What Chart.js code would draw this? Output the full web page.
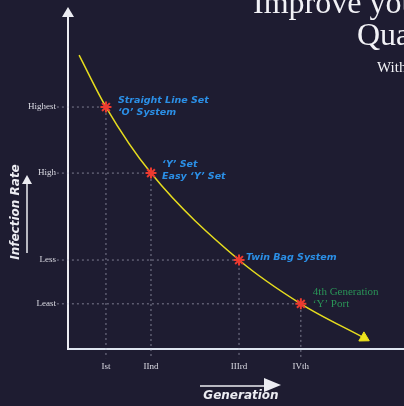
<!DOCTYPE html>
<html>
<head>
<meta charset="utf-8">
<script src="https://cdn.jsdelivr.net/npm/chart.js@4"></script>
<style>
  html, body { margin: 0; padding: 0; background: #1e1c31; overflow: hidden; }
  #wrap { width: 404px; height: 406px; }
</style>
</head>
<body>
<div id="wrap"><canvas id="chart"></canvas></div>
<script>
// tick labels and where they sit on the (0-100) scales
const generations = ['Ist', 'IInd', 'IIIrd', 'IVth'];
const genPos = [11.3, 24.7, 50.9, 69.3];
const rateLabels = ['Highest', 'High', 'Less', 'Least'];
const ratePos = [71.8, 52.2, 26.4, 13.4];

// the infection rate curve
const curveX = [3.3, 11.3, 24.7, 50.9, 69.3, 88.1];
const curveY = [87.2, 71.8, 52.2, 26.4, 13.4, 3.3];

// systems marked on the curve (one per generation)
const systems = [
  ['Straight Line Set', '‘O’ System'],
  ['‘Y’ Set', 'Easy ‘Y’ Set'],
  ['Twin Bag System'],
  ['4th Generation', '‘Y’ Port']
];

const labelStyle = [
  { dx: 12, dy: -7, color: '#2b8fe6', font: 'bold italic 9.5px "DejaVu Sans"' },
  { dx: 11, dy: -9, color: '#2b8fe6', font: 'bold italic 9.5px "DejaVu Sans"' },
  { dx: 7, dy: -3, color: '#2b8fe6', font: 'bold italic 9.5px "DejaVu Sans"' },
  { dx: 12, dy: -12, color: '#2a9457', font: '11px "Liberation Serif"' }
];

const markers = genPos.map((x, i) => ({ x: x, y: ratePos[i] }));
const curve = curveX.map((x, i) => ({ x: x, y: curveY[i] }));
const last = curve[curve.length - 1];

const dropLines = markers.map(p => ({
  data: [{ x: -3.3, y: p.y }, { x: p.x, y: p.y }, { x: p.x, y: -2.7 }],
  borderColor: 'rgba(190,192,210,0.6)',
  borderWidth: 1,
  borderDash: [2, 3],
  pointRadius: 0,
  tension: 0,
  clip: false,
  order: 3
}));

function noPadding(scale) {
  scale.paddingLeft = 0;
  scale.paddingRight = 0;
  scale.paddingTop = 0;
  scale.paddingBottom = 0;
}

const decor = {
  id: 'decor',
  beforeDraw(chart) {
    const ctx = chart.ctx;
    ctx.save();
    ctx.fillStyle = '#1e1c31';
    ctx.fillRect(0, 0, chart.width, chart.height);
    ctx.restore();
  },
  afterDraw(chart) {
    const { ctx, chartArea, scales: { x, y } } = chart;
    ctx.save();
    // y axis arrow head
    ctx.fillStyle = '#ececf2';
    ctx.beginPath();
    ctx.moveTo(chartArea.left, 7);
    ctx.lineTo(chartArea.left - 6, 17);
    ctx.lineTo(chartArea.left + 6, 17);
    ctx.closePath();
    ctx.fill();

    // system labels
    ctx.textBaseline = 'middle';
    ctx.textAlign = 'left';
    systems.forEach((lines, i) => {
      const s = labelStyle[i];
      const px = x.getPixelForValue(genPos[i]);
      const py = y.getPixelForValue(ratePos[i]);
      ctx.fillStyle = s.color;
      ctx.font = s.font;
      lines.forEach((t, j) => ctx.fillText(t, px + s.dx, py + s.dy + j * 12));
    });

    // axis titles with arrows
    ctx.fillStyle = '#ececf2';
    ctx.strokeStyle = '#ececf2';
    ctx.font = 'bold italic 12px "DejaVu Sans"';
    ctx.textAlign = 'center';
    ctx.fillText('Generation', 241, 396);
    ctx.lineWidth = 1.5;
    ctx.beginPath();
    ctx.moveTo(200, 386);
    ctx.lineTo(266, 386);
    ctx.stroke();
    ctx.beginPath();
    ctx.moveTo(281, 385);
    ctx.lineTo(264, 378);
    ctx.lineTo(264, 392);
    ctx.closePath();
    ctx.fill();

    ctx.save();
    ctx.translate(16, 212);
    ctx.rotate(-Math.PI / 2);
    ctx.fillText('Infection Rate', 0, 0);
    ctx.restore();
    ctx.beginPath();
    ctx.moveTo(27, 253);
    ctx.lineTo(27, 182);
    ctx.stroke();
    ctx.beginPath();
    ctx.moveTo(27, 175);
    ctx.lineTo(22, 184);
    ctx.lineTo(32, 184);
    ctx.closePath();
    ctx.fill();

    // page heading (cropped)
    ctx.fillStyle = '#f2f2f6';
    ctx.textAlign = 'left';
    ctx.textBaseline = 'alphabetic';
    ctx.font = '32px "Liberation Serif"';
    ctx.fillText('Improve your', 253, 13);
    ctx.fillText('Quality', 357, 45);
    ctx.font = '15px "Liberation Serif"';
    ctx.fillText('With', 377, 72);
    ctx.restore();
  }
};

new Chart(document.getElementById('chart'), {
  type: 'line',
  data: {
    datasets: [
      {
        data: markers,
        showLine: false,
        pointStyle: 'star',
        pointRadius: 5.5,
        borderColor: '#ec3a30',
        borderWidth: 2,
        order: 0
      },
      {
        data: [last],
        showLine: false,
        pointStyle: 'triangle',
        rotation: 119,
        pointRadius: 6,
        backgroundColor: '#ece21c',
        borderColor: '#ece21c',
        borderWidth: 1,
        order: 1
      },
      {
        data: curve,
        borderColor: '#e6dc1e',
        borderWidth: 1.5,
        pointRadius: 0,
        cubicInterpolationMode: 'monotone',
        order: 2
      },
      ...dropLines
    ]
  },
  options: {
    responsive: true,
    maintainAspectRatio: false,
    animation: false,
    events: [],
    layout: { autoPadding: false, padding: { top: 12, right: 0, left: 0, bottom: 0 } },
    plugins: { legend: { display: false }, tooltip: { enabled: false } },
    scales: {
      x: {
        type: 'linear',
        min: 0,
        max: 100,
        afterFit(scale) { scale.height = 57; noPadding(scale); },
        afterBuildTicks(scale) { scale.ticks = genPos.map(v => ({ value: v })); },
        grid: { display: false, drawTicks: false },
        border: { display: true, color: '#dfe6f0', width: 2 },
        ticks: {
          padding: 12,
          color: '#dcdce4',
          font: { family: 'Liberation Serif', size: 9 },
          maxRotation: 0,
          autoSkip: false,
          callback: (v, i) => generations[i]
        }
      },
      y: {
        type: 'linear',
        min: 0,
        max: 100,
        afterFit(scale) { scale.width = 68; noPadding(scale); },
        afterBuildTicks(scale) { scale.ticks = ratePos.map(v => ({ value: v })); },
        grid: { display: false, drawTicks: false },
        border: { display: true, color: '#ececf2', width: 2 },
        ticks: {
          padding: 12,
          color: '#dcdce4',
          font: { family: 'Liberation Serif', size: 9 },
          autoSkip: false,
          callback: (v, i) => rateLabels[i]
        }
      }
    }
  },
  plugins: [decor]
});
</script>
</body>
</html>
